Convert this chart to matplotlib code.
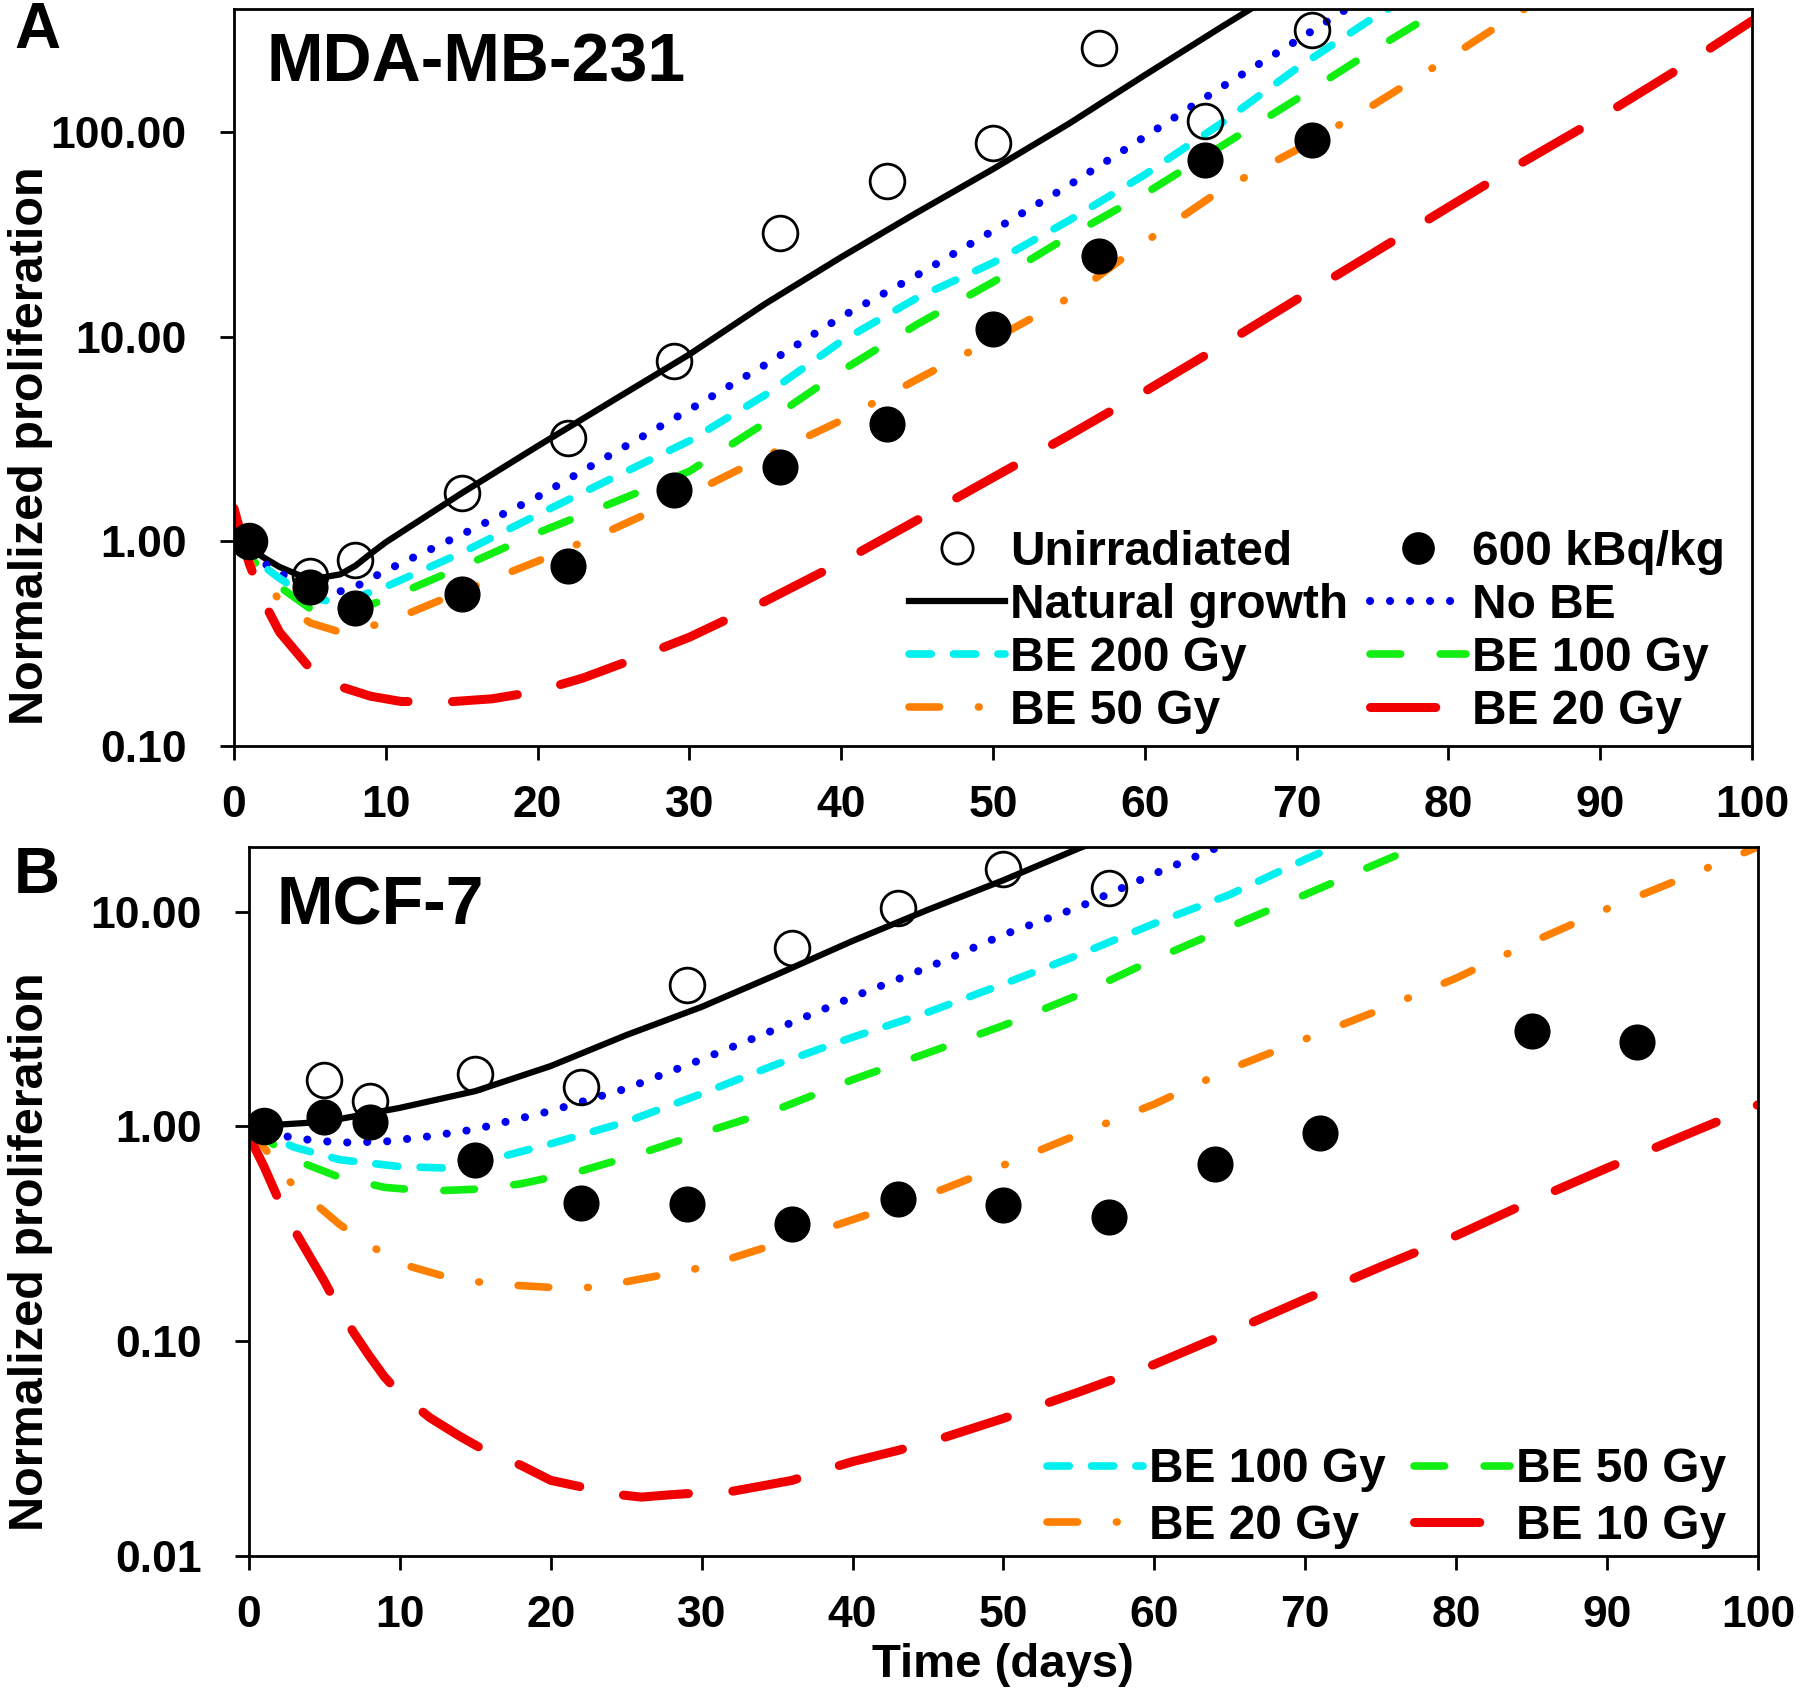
import matplotlib
matplotlib.use("Agg")
import matplotlib.pyplot as plt
from matplotlib.ticker import NullLocator, FixedLocator, FixedFormatter

plt.rcParams['font.family'] = ['Liberation Sans', 'DejaVu Sans']
plt.rcParams['font.weight'] = 'bold'
plt.rcParams['axes.labelweight'] = 'bold'
plt.rcParams['lines.scale_dashes'] = False

# ---- panel A: MDA-MB-231 ----
obs_days_A = [1, 5, 8, 15, 22, 29, 36, 43, 50, 57, 64, 71]
unirr_A = [1.0, 0.68, 0.81, 1.72, 3.2, 7.6, 32, 58, 89, 258, 113, 316]
treated_A = [1.0, 0.60, 0.47, 0.55, 0.755, 1.78, 2.3, 3.75, 10.9, 24.8, 73, 92]

t_nat_A = [0, 1, 2, 3, 5, 7, 8, 9, 10, 15, 20, 25, 30, 35, 40, 45, 50, 55, 60, 65, 70]
nat_A = [1.0, 0.93, 0.83, 0.75, 0.65, 0.69, 0.76, 0.87, 0.99, 1.72, 2.92, 4.9, 8.2, 14.5,
         24.5, 40.5, 66, 110, 190, 325, 550]

t_nobe_A = [0, 1, 2, 3, 5, 7, 8, 10, 15, 20, 25, 30, 35, 40, 45, 50, 55, 60, 65, 70, 75]
nobe_A = [1.0, 0.9, 0.78, 0.7, 0.6, 0.57, 0.6, 0.72, 1.08, 1.65, 2.7, 4.4, 7.3, 12.5, 20, 33, 55, 95, 165, 280, 480]

t_be_A = [0, 1, 2, 3, 5, 7, 10, 15, 20, 25, 30, 35, 40, 45, 50, 55, 60, 65, 70, 75, 80]
be200_A = [1.0, 0.88, 0.75, 0.66, 0.53, 0.5, 0.6, 0.88, 1.35, 2.05, 3.1, 5.2, 9.5, 15.5, 23, 37, 62, 110, 205, 360, 600]
be100_A = [1.0, 0.85, 0.7, 0.6, 0.47, 0.44, 0.52, 0.75, 1.1, 1.55, 2.2, 3.8, 6.8, 11.5, 18.5, 31, 50, 85, 145, 250, 420]

t_be50_A = [0, 1, 2, 3, 5, 7, 10, 15, 20, 25, 30, 35, 40, 45, 50, 55, 60, 65, 70, 75, 80, 85, 90]
be50_A = [1.0, 0.8, 0.62, 0.52, 0.4, 0.36, 0.4, 0.57, 0.8, 1.15, 1.7, 2.6, 3.9, 6.2, 9.7, 15.5, 29, 52, 82, 135, 230, 400, 680]

t_be20_A = [0, 1, 2, 3, 5, 7, 9, 11, 14, 17, 20, 23, 26, 30, 35, 40, 45, 50, 55, 60,
            65, 70, 75, 80, 85, 90, 95, 100]
be20_A = [1.45, 0.78, 0.5, 0.36, 0.24, 0.195, 0.175, 0.165, 0.164, 0.17, 0.185, 0.215, 0.26, 0.34,
          0.51, 0.79, 1.27, 2.05, 3.3, 5.4, 9.0, 15.2, 25.5, 43, 72, 118, 200, 350]

# ---- panel B: MCF-7 ----
obs_days_B_open = [1, 5, 8, 15, 22, 29, 36, 43, 50, 57]
unirr_B = [1.0, 1.64, 1.32, 1.75, 1.52, 4.53, 6.8, 10.4, 15.8, 12.9]
obs_days_B = [1, 5, 8, 15, 22, 29, 36, 43, 50, 57, 64, 71, 85, 92]
treated_B = [1.0, 1.11, 1.05, 0.70, 0.44, 0.435, 0.352, 0.457, 0.43, 0.38, 0.67, 0.93, 2.79, 2.47]

t_nat_B = [0, 5, 10, 15, 20, 25, 30, 35, 40, 45, 50, 55, 60]
nat_B = [1.0, 1.05, 1.22, 1.46, 1.91, 2.66, 3.6, 5.1, 7.3, 10.2, 14, 19.7, 27]

t_nobe_B = [0, 3, 6, 9, 12, 15, 20, 25, 30, 35, 40, 45, 50, 55, 60, 65]
nobe_B = [1.0, 0.88, 0.84, 0.85, 0.9, 0.97, 1.18, 1.5, 2.05, 2.85, 4.0, 5.5, 7.8, 10.5, 15, 21]

t_be100_B = [0, 3, 6, 10, 13, 16, 20, 25, 30, 35, 40, 45, 50, 55, 60, 65, 70, 75]
be100_B = [1.0, 0.8, 0.7, 0.65, 0.64, 0.7, 0.83, 1.05, 1.42, 1.95, 2.6, 3.4, 4.6, 6.3, 8.8, 12, 17.5, 25]

t_be50_B = [0, 3, 6, 9, 12, 15, 18, 22, 26, 30, 35, 40, 45, 50, 55, 60, 65, 70, 75, 80]
be50_B = [1.0, 0.7, 0.58, 0.52, 0.5, 0.51, 0.54, 0.62, 0.75, 0.93, 1.2, 1.65, 2.2, 2.95, 4.1, 6.0, 8.5, 12, 17, 24]

t_be20_B = [0, 1, 2.5, 4.5, 6, 8, 10, 13, 16, 20, 23, 26, 30, 34, 38, 42, 46, 50, 55, 60,
            65, 70, 75, 80, 85, 90, 95, 100]
be20_B = [1.0, 0.8, 0.57, 0.43, 0.35, 0.28, 0.23, 0.2, 0.185, 0.178, 0.178, 0.195, 0.22, 0.27,
          0.33, 0.41, 0.51, 0.66, 0.92, 1.27, 1.85, 2.55, 3.5, 4.9, 7.2, 10.3, 14.3, 20]

t_be10_B = [0, 1, 2, 3, 4, 5, 6, 7, 8, 9, 10, 12, 14, 16, 18, 20, 22, 24, 26, 28, 30, 32, 34,
            36, 38, 40, 43, 46, 50, 55, 60, 65, 70, 75, 80, 85, 90, 95, 100]
be10_B = [0.9, 0.65, 0.45, 0.33, 0.25, 0.19, 0.14, 0.108, 0.085, 0.068, 0.057, 0.044, 0.036, 0.030,
          0.0265, 0.0225, 0.021, 0.0195, 0.0188, 0.0193, 0.0197, 0.020, 0.0212, 0.0225, 0.025,
          0.0275, 0.031, 0.0355, 0.0437, 0.058, 0.078, 0.11, 0.157, 0.222, 0.31, 0.45, 0.64, 0.9, 1.26]

yticks_A = [0.1, 1, 10, 100]
yticklabels_A = ['0.10', '1.00', '10.00', '100.00']
yticks_B = [0.01, 0.1, 1, 10]
yticklabels_B = ['0.01', '0.10', '1.00', '10.00']

# line styles (dash lengths in points)
sty_nat = dict(color='black', lw=4.5, ls='-')
sty_nobe = dict(color='#0000ee', lw=5.8, ls=(0, (0.1, 14.3)), dash_capstyle='round')
sty_cyan = dict(color='#00f0f0', lw=5.5, ls=(0, (16, 16)), dash_capstyle='round')
sty_green = dict(color='#11ee11', lw=5.5, ls=(0, (22, 28.5)), dash_capstyle='round')
sty_orange = dict(color='#ff8000', lw=5.5, ls=(0, (22, 28, 0.5, 28)), dash_capstyle='round')
sty_red = dict(color='#f00000', lw=6.5, ls=(0, (47, 32)), dash_capstyle='round')
open_mk = dict(ls='none', marker='o', ms=25, mfc='none', mec='black', mew=2, zorder=4)
fill_mk = dict(ls='none', marker='o', ms=25, mfc='black', mec='black', zorder=5)

fig = plt.figure(figsize=(18, 17), dpi=100)
axA = fig.add_axes([0.1300, 0.5612, 0.8433, 0.4335])
axB = fig.add_axes([0.1383, 0.0847, 0.8383, 0.4171])
for ax in (axA, axB):
    ax.set_yscale('log')

# panel A
h_open, = axA.plot(obs_days_A, unirr_A, label='Unirradiated', **open_mk)
h_fill, = axA.plot(obs_days_A, treated_A, label='600 kBq/kg', **fill_mk)
h_nat, = axA.plot(t_nat_A, nat_A, label='Natural growth', **sty_nat)
h_nobe, = axA.plot(t_nobe_A, nobe_A, label='No BE', **sty_nobe)
h200, = axA.plot(t_be_A, be200_A, label='BE 200 Gy', **sty_cyan)
h100, = axA.plot(t_be_A, be100_A, label='BE 100 Gy', **sty_green)
h50, = axA.plot(t_be50_A, be50_A, label='BE 50 Gy', **sty_orange)
h20, = axA.plot(t_be20_A, be20_A, label='BE 20 Gy', **sty_red)
axA.set_ylim(0.1, 400)
axA.yaxis.set_major_locator(FixedLocator(yticks_A))
axA.yaxis.set_major_formatter(FixedFormatter(yticklabels_A))

# order so the 2-column legend reads row by row
hA = [h_open, h_nat, h200, h50, h_fill, h_nobe, h100, h20]
axA.legend(handles=hA, ncol=2, loc='lower right', bbox_to_anchor=(0.982, 0.016),
           frameon=False, fontsize=34.5, handlelength=2.0, handletextpad=0.12,
           columnspacing=0.45, labelspacing=0.17, borderpad=0, borderaxespad=0,
           markerscale=0.9)
axA.text(0.0217, 0.902, 'MDA-MB-231', transform=axA.transAxes, fontsize=49,
         fontweight='bold', va='baseline', ha='left')

# panel B
axB.plot(obs_days_B_open, unirr_B, **open_mk)
axB.plot(obs_days_B, treated_B, **fill_mk)
axB.plot(t_nat_B, nat_B, **sty_nat)
axB.plot(t_nobe_B, nobe_B, **sty_nobe)
g100, = axB.plot(t_be100_B, be100_B, label='BE 100 Gy', **sty_cyan)
g50, = axB.plot(t_be50_B, be50_B, label='BE 50 Gy', **sty_green)
g20, = axB.plot(t_be20_B, be20_B, label='BE 20 Gy', **sty_orange)
g10, = axB.plot(t_be10_B, be10_B, label='BE 10 Gy', **sty_red)
axB.set_ylim(0.01, 20)
axB.yaxis.set_major_locator(FixedLocator(yticks_B))
axB.yaxis.set_major_formatter(FixedFormatter(yticklabels_B))
axB.legend(handles=[g100, g20, g50, g10], ncol=2, loc='lower right',
           bbox_to_anchor=(0.979, 0.01), frameon=False, fontsize=34.5,
           handlelength=2.0, handletextpad=0.12, columnspacing=0.6,
           labelspacing=0.24, borderpad=0, borderaxespad=0)
axB.text(0.018, 0.891, 'MCF-7', transform=axB.transAxes, fontsize=49,
         fontweight='bold', va='baseline', ha='left')
axB.set_xlabel('Time (days)', fontsize=34)
axB.xaxis.set_label_coords(0.5, -0.122)
axB.xaxis.label.set_va('top')

for ax, ylab_x, ylab_y in [(axA, -0.119, 0.408), (axB, -0.130, 0.429)]:
    ax.yaxis.set_minor_locator(NullLocator())
    ax.set_xlim(0, 100)
    ax.set_xticks(range(0, 101, 10))
    ax.tick_params(direction='out', length=10, width=2, labelsize=32)
    ax.tick_params(axis='y', pad=24)
    ax.tick_params(axis='x', pad=18)
    for sp in ax.spines.values():
        sp.set_linewidth(2)
    ax.set_ylabel('Normalized proliferation', fontsize=35)
    ax.yaxis.set_label_coords(ylab_x, ylab_y)

fig.text(0.0078, 0.972, 'A', fontsize=46, fontweight='bold', va='baseline', ha='left')
fig.text(0.0078, 0.4747, 'B', fontsize=46, fontweight='bold', va='baseline', ha='left')

fig.savefig('out.png', dpi=100)
